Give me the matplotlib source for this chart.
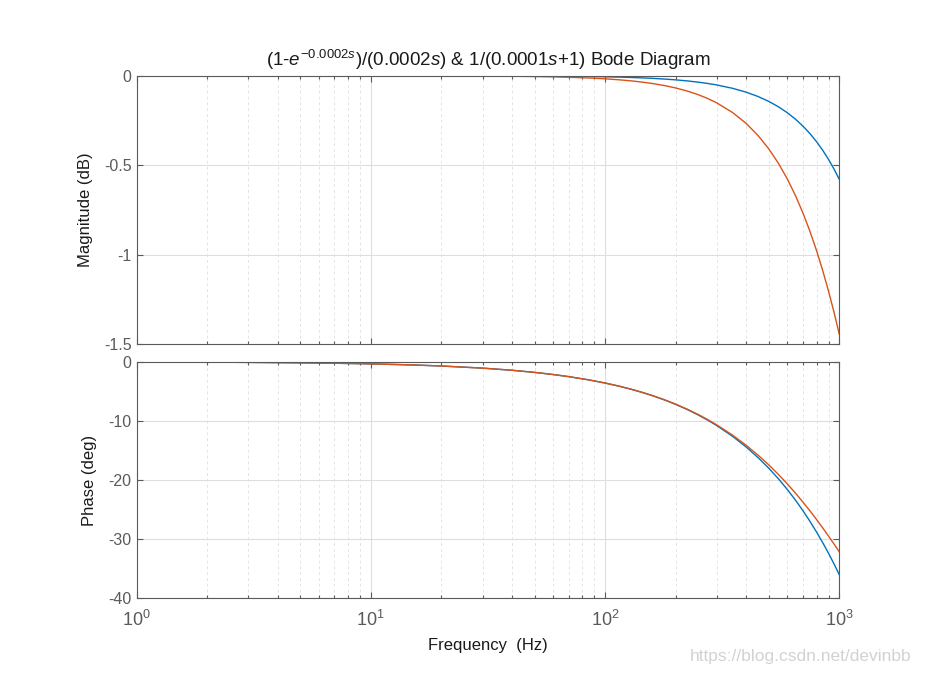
import matplotlib
matplotlib.use("Agg")
import matplotlib.pyplot as plt
from matplotlib.ticker import LogLocator, FixedLocator, NullFormatter

plt.rcParams["font.family"] = ["Liberation Sans", "DejaVu Sans"]
plt.rcParams["mathtext.fontset"] = "custom"
plt.rcParams["mathtext.rm"] = "Liberation Sans"
plt.rcParams["mathtext.it"] = "Liberation Sans:italic"
plt.rcParams["mathtext.bf"] = "Liberation Sans:bold"

# Frequency (Hz)
freq = [1, 2, 3, 5, 7, 10, 15, 20, 30, 40, 50, 60, 70, 85, 100, 115, 130, 145,
        160, 180, 200, 225, 250, 275, 300, 350, 400, 450, 500, 550, 600, 650,
        700, 750, 800, 850, 900, 950, 1000]

# (1-e^-0.0002s)/(0.0002s)
zoh_mag = [0, 0, 0, -0.00001, -0.00003, -0.00006, -0.00013, -0.00023, -0.00051,
           -0.00091, -0.00143, -0.00206, -0.0028, -0.00413, -0.00572, -0.00756,
           -0.00966, -0.01202, -0.01464, -0.01853, -0.02287, -0.02895, -0.03575,
           -0.04327, -0.0515, -0.07012, -0.09163, -0.11604, -0.14335, -0.17357,
           -0.20674, -0.24275, -0.28187, -0.32391, -0.3689, -0.41693, -0.46797,
           -0.52208, -0.57926]
zoh_phase = [-0.036, -0.072, -0.108, -0.18, -0.252, -0.36, -0.54, -0.72, -1.08,
             -1.44, -1.8, -2.16, -2.52, -3.06, -3.6, -4.14, -4.68, -5.22, -5.76,
             -6.48, -7.2, -8.1, -9.0, -9.9, -10.8, -12.6, -14.4, -16.2, -18.0,
             -19.8, -21.6, -23.4, -25.2, -27.0, -28.8, -30.6, -32.4, -34.2, -36.0]

# 1/(0.0001s+1)
lp_mag = [-0.000002, -0.000007, -0.000015, -0.000043, -0.000084, -0.00017,
          -0.00039, -0.00069, -0.00154, -0.00274, -0.00428, -0.00617, -0.00839,
          -0.01237, -0.01711, -0.02262, -0.02888, -0.0359, -0.04367, -0.0552,
          -0.06804, -0.08594, -0.10586, -0.12777, -0.15163, -0.20511, -0.26601,
          -0.33402, -0.40879, -0.48995, -0.57714, -0.66995, -0.76803, -0.87097,
          -0.97835, -1.08983, -1.20503, -1.32357, -1.44512]
lp_phase = [-0.036, -0.072, -0.108, -0.18, -0.252, -0.36, -0.54, -0.72, -1.08,
            -1.44, -1.799, -2.159, -2.518, -3.057, -3.595, -4.133, -4.670,
            -5.206, -5.741, -6.453, -7.163, -8.047, -8.927, -9.803, -10.675,
            -12.403, -14.108, -15.788, -17.441, -19.064, -20.656, -22.215,
            -23.741, -25.232, -26.687, -28.106, -29.488, -30.833, -32.142]

mag_ticks = [-1.5, -1, -0.5, 0]
mag_labels = ["-1.5", "-1", "-0.5", "0"]
phase_ticks = [-40, -30, -20, -10, 0]
phase_labels = ["-40", "-30", "-20", "-10", "0"]
x_ticks = [1, 10, 100, 1000]
x_labels = ["$10^{0}$", "$10^{1}$", "$10^{2}$", "$10^{3}$"]

BLUE = "#0072BD"
ORANGE = "#D95319"
AXC = "#5a5a5a"

fig = plt.figure(figsize=(9.28, 6.74), dpi=100)
ax1 = fig.add_axes([0.1471, 0.4896, 0.7573, 0.398])
ax2 = fig.add_axes([0.1471, 0.1123, 0.7573, 0.351])


def style(ax):
    ax.set_xscale("log")
    ax.set_xlim(1, 1000)
    ax.xaxis.set_major_locator(FixedLocator(x_ticks))
    ax.xaxis.set_minor_locator(LogLocator(base=10, subs=range(2, 10), numticks=20))
    ax.xaxis.set_minor_formatter(NullFormatter())
    ax.tick_params(which="both", direction="in", top=True, right=True,
                   colors=AXC, labelsize=11.5, width=0.8)
    ax.tick_params(which="major", length=4.5)
    ax.tick_params(which="minor", length=2.5)
    ax.grid(which="major", color="#dedede", linewidth=0.8)
    ax.grid(which="minor", axis="x", color="#e4e4e4", linestyle=(0, (3, 3)), linewidth=0.7)
    ax.set_axisbelow(True)
    for s in ax.spines.values():
        s.set_color(AXC)
        s.set_linewidth(0.8)


style(ax1)
ax1.plot(freq, zoh_mag, color=BLUE, linewidth=1.0)
ax1.plot(freq, lp_mag, color=ORANGE, linewidth=1.0)
ax1.set_ylim(-1.5, 0)
ax1.set_yticks(mag_ticks)
ax1.set_yticklabels(mag_labels)
ax1.set_xticklabels([])
ax1.set_ylabel("Magnitude (dB)", fontsize=12, color="#1a1a1a", labelpad=8)
ax1.set_title(r"(1-$\mathit{e}^{-0.0002\mathit{s}}$)/(0.0002$\mathit{s}$) & "
              r"1/(0.0001$\mathit{s}$+1) Bode Diagram",
              fontsize=13.5, color="#1a1a1a", pad=7)

style(ax2)
ax2.plot(freq, zoh_phase, color=BLUE, linewidth=1.0)
ax2.plot(freq, lp_phase, color=ORANGE, linewidth=1.0)
ax2.set_ylim(-40, 0)
ax2.set_yticks(phase_ticks)
ax2.set_yticklabels(phase_labels)
ax2.set_xticklabels(x_labels, fontsize=13)
ax2.tick_params(axis="x", pad=8)
ax2.set_ylabel("Phase (deg)", fontsize=12, color="#1a1a1a", labelpad=8)
ax2.set_xlabel("Frequency  (Hz)", fontsize=12, color="#1a1a1a", labelpad=6)

fig.text(0.982, 0.015, "https://blog.csdn.net/devinbb", ha="right", va="bottom",
         fontsize=12.5, color="#d2d2d2")

fig.savefig("out.png", dpi=100)
